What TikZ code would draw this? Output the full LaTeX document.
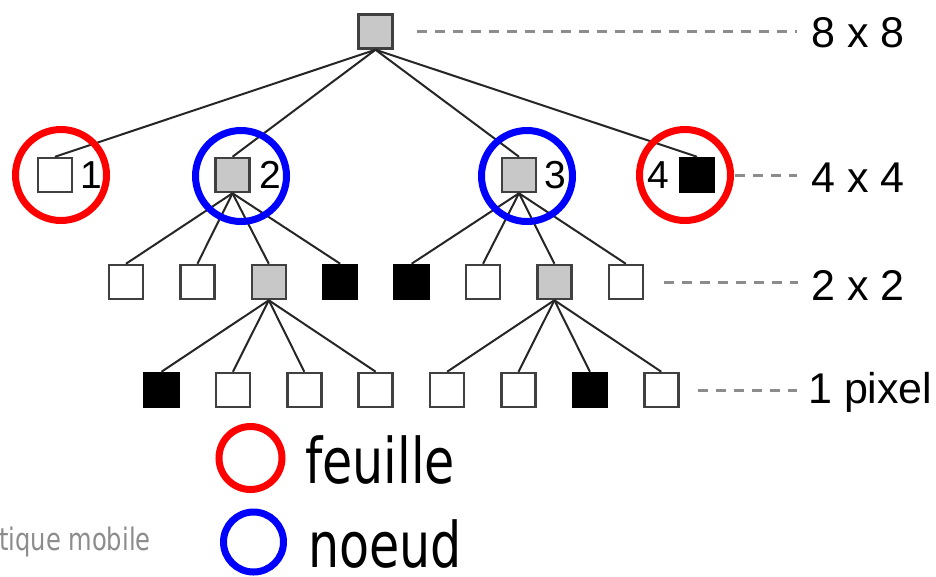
\documentclass[tikz,border=0pt]{standalone}
\usepackage{fontspec}
\setmainfont{Liberation Sans}
\newfontfamily\legendfont[FakeStretch=0.78]{DejaVu Sans}
\usetikzlibrary{positioning}
\definecolor{cellgray}{HTML}{C8C8C8}
\definecolor{guidegray}{HTML}{8C8C8C}
\definecolor{leafred}{HTML}{FF0000}
\definecolor{nodeblue}{HTML}{0000FF}
\tikzset{
  cell/.style={draw=black!75, line width=2.5pt, minimum size=34pt, inner sep=0pt, fill=white},
  greycell/.style={cell, fill=cellgray},
  blackcell/.style={cell, fill=black, draw=black},
  link/.style={line width=2pt, draw=black!85},
  guide/.style={draw=guidegray, line width=3pt, dash pattern=on 10pt off 8pt},
  ring/.style={circle, line width=7pt, inner sep=0pt, minimum size=91pt},
  num/.style={inner sep=0pt, font=\fontsize{39}{42}\selectfont},
  scale label/.style={inner sep=0pt, anchor=base west, font=\fontsize{43}{46}\selectfont},
  legend text/.style={inner sep=0pt, anchor=base west, text depth=0pt, font=\legendfont\fontsize{63}{70}\selectfont},
}

\begin{document}
\begin{tikzpicture}[x=1pt, y=-1pt]
\newcommand\X{71.4}
\useasboundingbox (0,0) rectangle (936,576);

\node[greycell] (n0) at (375.5, 31.5) {};

\node[cell] (a1) at (55, 175) {};
\node[greycell] (a2) at (232.5, 175) {};
\node[greycell] (a3) at (519, 175) {};
\node[blackcell] (a4) at (697, 175) {};
\node[num, right=7pt of a1] (l1) {1};
\node[num, right=9pt of a2] (l2) {2};
\node[num, right=7pt of a3] (l3) {3};
\node[num, left=9pt of a4] (l4) {4};

\node[cell] (b1) at (126+0*\X, 282) {};
\node[cell] (b2) at (126+1*\X, 282) {};
\node[greycell] (b3) at (126+2*\X, 282) {};
\node[blackcell] (b4) at (126+3*\X, 282) {};
\node[blackcell] (b5) at (126+4*\X, 282) {};
\node[cell] (b6) at (126+5*\X, 282) {};
\node[greycell] (b7) at (126+6*\X, 282) {};
\node[cell] (b8) at (126+7*\X, 282) {};

\node[blackcell] (c1) at (161.5+0*\X, 390) {};
\node[cell] (c2) at (161.5+1*\X, 390) {};
\node[cell] (c3) at (161.5+2*\X, 390) {};
\node[cell] (c4) at (161.5+3*\X, 390) {};
\node[cell] (c5) at (161.5+4*\X, 390) {};
\node[cell] (c6) at (161.5+5*\X, 390) {};
\node[blackcell] (c7) at (161.5+6*\X, 390) {};
\node[cell] (c8) at (161.5+7*\X, 390) {};

\draw[link] (n0.south) -- (a1.north);
\draw[link] (n0.south) -- (a2.north);
\draw[link] (n0.south) -- (a3.north);
\draw[link] (n0.south) -- (a4.north);

\draw[link] (a2.south) -- (b1.north);
\draw[link] (a2.south) -- (b2.north);
\draw[link] (a2.south) -- (b3.north);
\draw[link] (a2.south) -- (b4.north);
\draw[link] (a3.south) -- (b5.north);
\draw[link] (a3.south) -- (b6.north);
\draw[link] (a3.south) -- (b7.north);
\draw[link] (a3.south) -- (b8.north);

\draw[link] (b3.south) -- (c1.north);
\draw[link] (b3.south) -- (c2.north);
\draw[link] (b3.south) -- (c3.north);
\draw[link] (b3.south) -- (c4.north);
\draw[link] (b7.south) -- (c5.north);
\draw[link] (b7.south) -- (c6.north);
\draw[link] (b7.south) -- (c7.north);
\draw[link] (b7.south) -- (c8.north);

\node[ring, draw=leafred] (r1) at (61, 175) {};
\node[ring, draw=nodeblue] (r2) at (241, 176) {};
\node[ring, draw=nodeblue] (r3) at (527, 176) {};
\node[ring, draw=leafred] (r4) at (685, 175) {};

\node[scale label] (t0) at (811, 47) {8 x 8};
\node[scale label] (t1) at (811, 192) {4 x 4};
\node[scale label] (t2) at (811, 300) {2 x 2};
\node[scale label] (t3) at (808, 403) {1 pixel};

\draw[guide] ([xshift=23pt]n0.east) -- ([xshift=-14pt]n0.east -| t0.west);
\draw[guide] ([xshift=1pt]r4.east) -- ([xshift=-14pt]r4.east -| t1.west);
\draw[guide] ([xshift=20pt]b8.east) -- ([xshift=-13pt]b8.east -| t2.west);
\draw[guide] ([xshift=18pt]c8.east) -- ([xshift=-11pt]c8.east -| t3.west);

% legende
\node[ring, draw=leafred, minimum size=63pt] (k1) at (250.5, 458) {};
\node[ring, draw=nodeblue, minimum size=60pt] (k2) at (253.5, 542) {};
\node[legend text] (w1) at (305, 483) {feuille};
\node[legend text] (w2) at (308, 567) {noeud};
\node[inner sep=0pt, anchor=base west, text=guidegray, font=\legendfont\fontsize{31}{34}\selectfont] (w3) at (-1, 550) {tique mobile};
\end{tikzpicture}
\end{document}
